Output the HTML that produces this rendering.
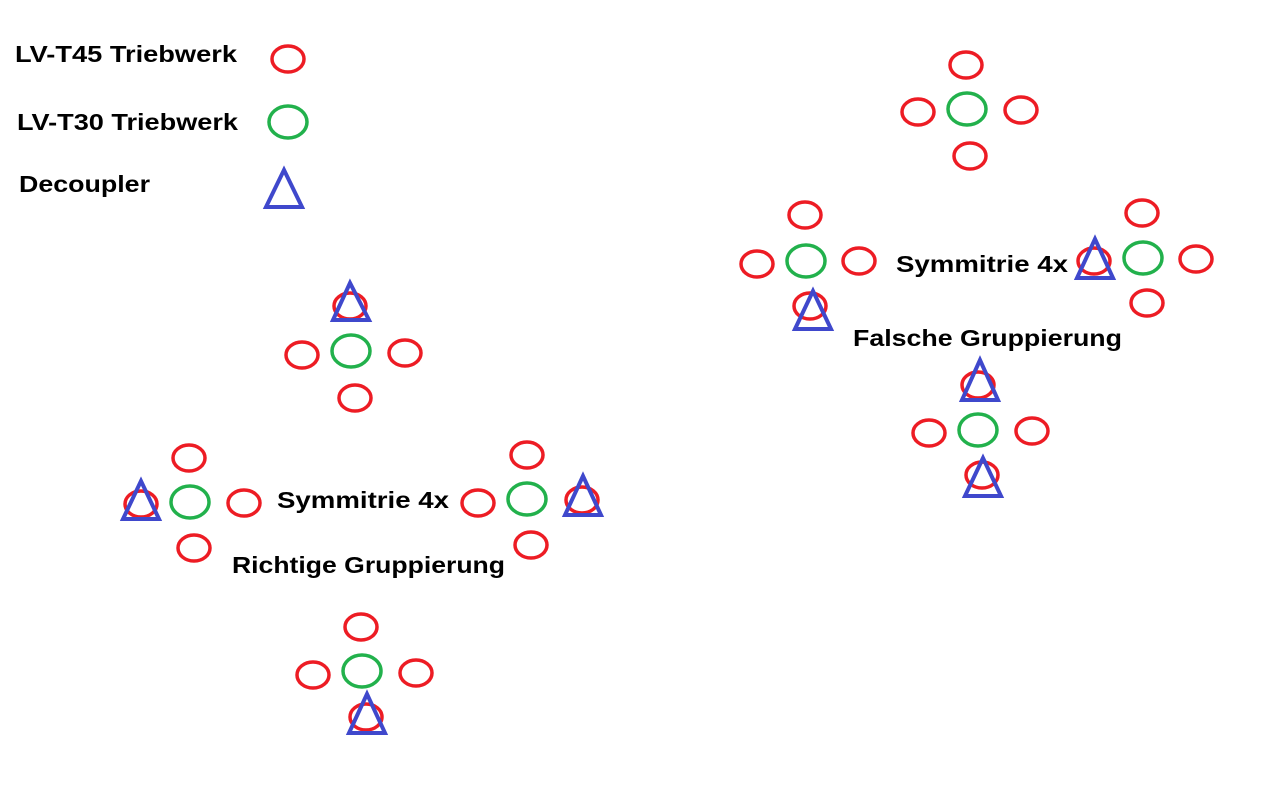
<!DOCTYPE html>
<html><head><meta charset="utf-8"><style>
html,body{margin:0;padding:0;background:#fff;width:1280px;height:800px;overflow:hidden}
svg text{font-family:"Liberation Sans",sans-serif;font-weight:bold;font-size:23px;fill:#000}
.r{fill:none;stroke:#ed1c24;stroke-width:3.5}
.g{fill:none;stroke:#22b14c;stroke-width:3.5}
.t{fill:none;stroke:#3f48cc;stroke-width:4;stroke-linejoin:miter}
</style></head><body>
<svg width="1280" height="800" xmlns="http://www.w3.org/2000/svg">
<text x="15" y="62" textLength="222" lengthAdjust="spacingAndGlyphs">LV-T45 Triebwerk</text>
<text x="17" y="130" textLength="221" lengthAdjust="spacingAndGlyphs">LV-T30 Triebwerk</text>
<text x="19" y="192" textLength="131" lengthAdjust="spacingAndGlyphs">Decoupler</text>
<ellipse class="r" cx="288" cy="59" rx="16" ry="13"/>
<ellipse class="g" cx="288" cy="122" rx="19" ry="16"/>
<polygon class="t" points="284,170 266,207 302,207"/>

<ellipse class="r" cx="350" cy="306" rx="16" ry="13"/>
<polygon class="t" points="350,283 333,320 369,320"/>
<ellipse class="r" cx="302" cy="355" rx="16" ry="13"/>
<ellipse class="g" cx="351" cy="351" rx="19" ry="16"/>
<ellipse class="r" cx="405" cy="353" rx="16" ry="13"/>
<ellipse class="r" cx="355" cy="398" rx="16" ry="13"/>

<ellipse class="r" cx="189" cy="458" rx="16" ry="13"/>
<ellipse class="r" cx="141" cy="504" rx="16" ry="13"/>
<polygon class="t" points="141,481 123,519 159,519"/>
<ellipse class="g" cx="190" cy="502" rx="19" ry="16"/>
<ellipse class="r" cx="244" cy="503" rx="16" ry="13"/>
<ellipse class="r" cx="194" cy="548" rx="16" ry="13"/>
<text x="277" y="508" textLength="172" lengthAdjust="spacingAndGlyphs">Symmitrie 4x</text>
<text x="232" y="573" textLength="273" lengthAdjust="spacingAndGlyphs">Richtige Gruppierung</text>

<ellipse class="r" cx="527" cy="455" rx="16" ry="13"/>
<ellipse class="r" cx="478" cy="503" rx="16" ry="13"/>
<ellipse class="g" cx="527" cy="499" rx="19" ry="16"/>
<ellipse class="r" cx="582" cy="500" rx="16" ry="13"/>
<polygon class="t" points="583,476 565,515 601,515"/>
<ellipse class="r" cx="531" cy="545" rx="16" ry="13"/>

<ellipse class="r" cx="361" cy="627" rx="16" ry="13"/>
<ellipse class="r" cx="313" cy="675" rx="16" ry="13"/>
<ellipse class="g" cx="362" cy="671" rx="19" ry="16"/>
<ellipse class="r" cx="416" cy="673" rx="16" ry="13"/>
<ellipse class="r" cx="366" cy="717" rx="16" ry="13"/>
<polygon class="t" points="367,694 349,733 385,733"/>

<ellipse class="r" cx="966" cy="65" rx="16" ry="13"/>
<ellipse class="r" cx="918" cy="112" rx="16" ry="13"/>
<ellipse class="g" cx="967" cy="109" rx="19" ry="16"/>
<ellipse class="r" cx="1021" cy="110" rx="16" ry="13"/>
<ellipse class="r" cx="970" cy="156" rx="16" ry="13"/>

<ellipse class="r" cx="805" cy="215" rx="16" ry="13"/>
<ellipse class="r" cx="757" cy="264" rx="16" ry="13"/>
<ellipse class="g" cx="806" cy="261" rx="19" ry="16"/>
<ellipse class="r" cx="859" cy="261" rx="16" ry="13"/>
<ellipse class="r" cx="810" cy="306" rx="16" ry="13"/>
<polygon class="t" points="813,291 795,329 831,329"/>
<text x="896" y="272" textLength="172" lengthAdjust="spacingAndGlyphs">Symmitrie 4x</text>

<ellipse class="r" cx="1094" cy="261" rx="16" ry="13"/>
<polygon class="t" points="1095,239 1077,278 1113,278"/>
<ellipse class="r" cx="1142" cy="213" rx="16" ry="13"/>
<ellipse class="g" cx="1143" cy="258" rx="19" ry="16"/>
<ellipse class="r" cx="1196" cy="259" rx="16" ry="13"/>
<ellipse class="r" cx="1147" cy="303" rx="16" ry="13"/>
<text x="853" y="346" textLength="269" lengthAdjust="spacingAndGlyphs">Falsche Gruppierung</text>

<ellipse class="r" cx="978" cy="385" rx="16" ry="13"/>
<polygon class="t" points="980,360 962,400 998,400"/>
<ellipse class="r" cx="929" cy="433" rx="16" ry="13"/>
<ellipse class="g" cx="978" cy="430" rx="19" ry="16"/>
<ellipse class="r" cx="1032" cy="431" rx="16" ry="13"/>
<ellipse class="r" cx="982" cy="475" rx="16" ry="13"/>
<polygon class="t" points="983,458 965,496 1001,496"/>
</svg>
</body></html>
